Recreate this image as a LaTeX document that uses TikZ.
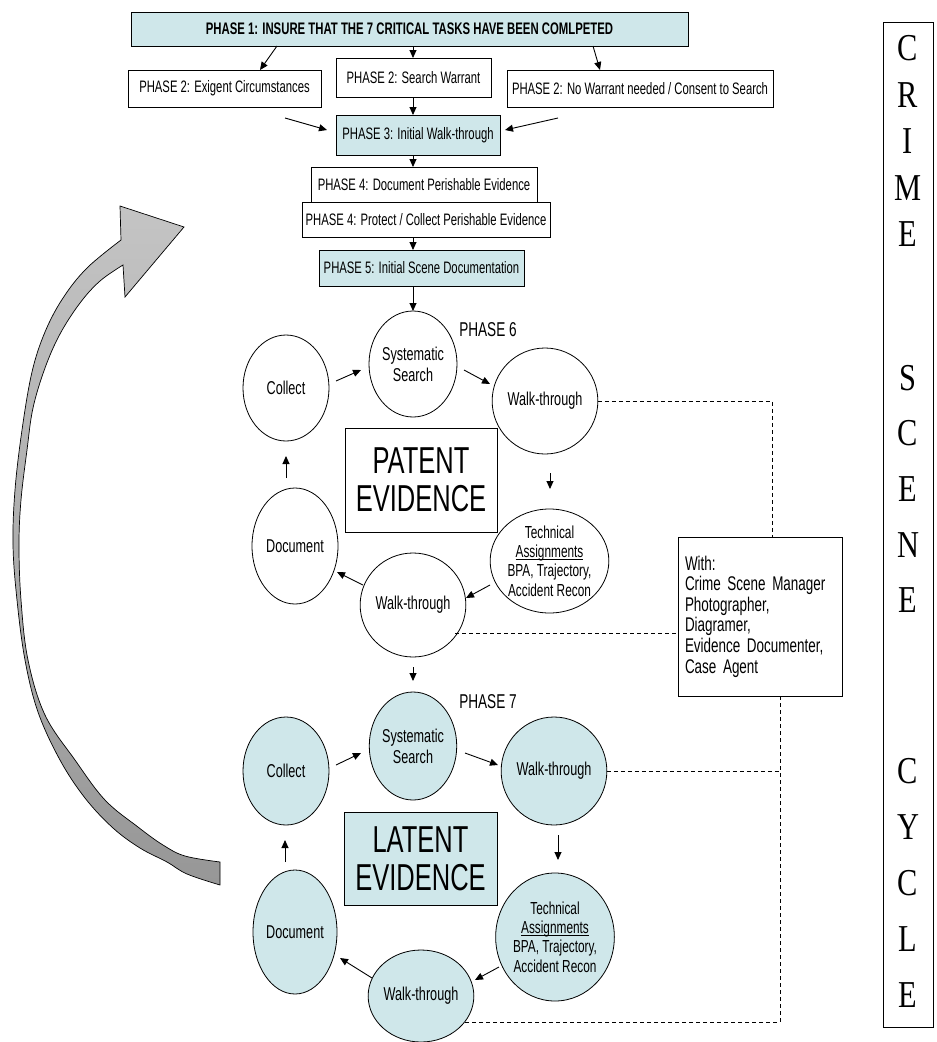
\documentclass[tikz,border=0pt]{standalone}
\usepackage{fontspec}
\setmainfont{Liberation Sans}[FakeStretch=0.68]
\newfontfamily\tnr{Liberation Serif}[FakeStretch=0.8]
\usetikzlibrary{arrows.meta,shapes.geometric}
\definecolor{lb}{HTML}{CFE7EA}
\definecolor{arrlight}{HTML}{C4C4C4}
\definecolor{arrdark}{HTML}{979797}
\newcommand{\myul}[1]{{\setbox0\hbox{#1}\rlap{\rule[-2.2pt]{\wd0}{0.6pt}}\box0}}
\begin{document}
\begin{tikzpicture}[x=1pt,y=-1pt,
  every node/.style={inner sep=0pt,outer sep=0pt},
  pbox/.style={draw,line width=0.8pt,rectangle,font=\fontsize{16.6}{18}\selectfont},
  circ/.style={draw,line width=0.8pt,ellipse,align=center,font=\fontsize{18.6}{21}\selectfont},
  techc/.style={circ,font=\fontsize{17.4}{19.3}\selectfont},
  white6/.style={fill=white},
  blue7/.style={fill=lb},
  arr/.style={-{Triangle[length=8pt,width=7pt]},line width=0.9pt},
  dsh/.style={line width=0.8pt,dash pattern=on 4pt off 3pt},
  bigbox/.style={draw,line width=0.8pt,rectangle,align=center,font=\fontsize{37.5}{38}\selectfont},
  letter/.style={font=\tnr\fontsize{38}{38}\selectfont}
]
\useasboundingbox (0,0) rectangle (937,1042);
\fill[white] (0,0) rectangle (937,1042);

% ---------- big curved arrow ----------
\path[draw=black,line width=0.7pt,top color=arrlight,bottom color=arrdark]
  plot[smooth,tension=0.6] coordinates {(220,885) (187,874) (167,862) (140,848) (113,828) (85,798) (60,760) (38,712) (25,660) (17,600) (13,545) (15,490) (22,430) (32,372) (45,332) (63,298) (87,268) (121,240)}
  -- (120,206) -- (184,227) -- (125,297) -- (123,265)
  -- plot[smooth,tension=0.6] coordinates {(123,265) (100,281) (80,303) (60,334) (45,368) (33,408) (27,450) (21,500) (19,545) (21,600) (28,660) (45,715) (75,760) (105,800) (138,827) (163,845) (185,856) (220,862)}
  -- cycle;

% ---------- phase boxes ----------
\node[pbox,fill=lb,minimum width=557pt,minimum height=34pt,font=\bfseries\fontsize{16.7}{18}\selectfont] (p1) at (409.5,29) {PHASE 1: INSURE THAT THE 7 CRITICAL TASKS HAVE BEEN COMLPETED};
\node[pbox,minimum width=193pt,minimum height=37pt] (ex) at (224.5,88.5) {PHASE 2: Exigent Circumstances};
\node[pbox,minimum width=155pt,minimum height=39pt] (sw) at (413.5,77.5) {PHASE 2: Search Warrant};
\node[pbox,minimum width=266pt,minimum height=37pt] (nw) at (640,88.5) {PHASE 2: No Warrant needed / Consent to Search};
\node[pbox,fill=lb,minimum width=164pt,minimum height=40pt] (p3) at (418,135) {PHASE 3: Initial Walk-through};
\node[pbox,minimum width=226pt,minimum height=35pt] (p4a) at (424,184.5) {PHASE 4: Document Perishable Evidence};
\node[pbox,minimum width=248pt,minimum height=35pt] (p4b) at (426,219.5) {PHASE 4: Protect / Collect Perishable Evidence};
\node[pbox,fill=lb,minimum width=205pt,minimum height=36pt] (p5) at (421.5,268) {PHASE 5: Initial Scene Documentation};

\coordinate (e1) at (277,46);  \coordinate (e2) at (260,70);
\coordinate (n1) at (593,46);  \coordinate (n2) at (600,70);
\coordinate (ea) at (285,118); \coordinate (eb) at (327,130);
\coordinate (na) at (558,118); \coordinate (nb) at (505,130);
\draw[arr] (e1) -- (e2);
\draw[arr] (n1) -- (n2);
\draw[arr] (413,0 |- p1.south) -- (413,0 |- sw.north);
\draw[arr] (413,0 |- sw.south) -- (413,0 |- p3.north);
\draw[arr] (ea) -- (eb);
\draw[arr] (na) -- (nb);
\draw[arr] (413,0 |- p3.south) -- (413,0 |- p4a.north);
\draw[arr] (413,0 |- p4b.south) -- (413,0 |- p5.north);

% ---------- phase 6 ----------
\node[circ,white6,minimum width=88pt,minimum height=106pt] (sys6) at (413,364) {Systematic\\Search};
\node[circ,white6,minimum width=86pt,minimum height=106pt] (col6) at (286,388) {Collect};
\node[circ,white6,minimum width=94pt,minimum height=106pt] (wt6) at (545,401) {Walk-through};
\node[circ,white6,minimum width=86pt,minimum height=116pt] (doc6) at (295,546) {Document};
\node[techc,white6,minimum width=103pt,minimum height=104pt] (tech6) at (549.5,561) {Technical\\\myul{Assignments}\\BPA, Trajectory,\\Accident Recon};
\node[circ,white6,minimum width=87pt,minimum height=104pt] (wb6) at (413,605) {Walk-through};
\node[bigbox,fill=white,minimum width=152pt,minimum height=104pt] (pat) at (421,480) {PATENT\\EVIDENCE};
\node[font=\fontsize{20}{22}\selectfont] (ph6) at (488,330) {PHASE 6};

\draw[arr] (sys6.north |- p5.south) -- (sys6.north);
\draw[arr] (336,381) -- (361,370);
\draw[arr] (464,370) -- (490,384);
\draw[arr] (550,473) -- (550,489);
\draw[arr] (490,585) -- (466,598);
\draw[arr] (363,585) -- (337,572);
\draw[arr] (286,478) -- (286,456);

% ---------- phase 7 ----------
\node[circ,blue7,minimum width=86pt,minimum height=108pt] (sys7) at (413,746) {Systematic\\Search};
\node[circ,blue7,minimum width=86pt,minimum height=108pt] (col7) at (286,771) {Collect};
\node[circ,blue7,minimum width=94pt,minimum height=108pt] (wt7) at (554,771) {Walk-through};
\node[bigbox,fill=lb,minimum width=153pt,minimum height=93pt] (lat) at (420.5,858.5) {LATENT\\EVIDENCE};
\node[techc,blue7,minimum width=95pt,minimum height=128pt] (tech7) at (555,937) {Technical\\\myul{Assignments}\\BPA, Trajectory,\\Accident Recon};
\node[circ,blue7,minimum width=84pt,minimum height=124pt] (doc7) at (295,932) {Document};
\node[circ,blue7,minimum width=88pt,minimum height=92pt] (wb7) at (421,996) {Walk-through};
\node[font=\fontsize{20}{22}\selectfont] (ph7) at (488,702) {PHASE 7};

\draw[arr] (413,667) -- (413,681);
\draw[arr] (336,765) -- (361,753);
\draw[arr] (465,753) -- (498,765);
\draw[arr] (558,835) -- (558,860);
\draw[arr] (499,967) -- (475,980);
\draw[arr] (372,978) -- (340,958);
\draw[arr] (285,862) -- (285,840);

% ---------- team box and dashed links ----------
\node[draw,line width=0.8pt,rectangle,minimum width=164pt,minimum height=159pt,
      text width=150pt,align=left,font=\fontsize{19.8}{20.6}\selectfont] (with) at (760,616.5)
  {With:\\Crime Scene Manager\\Photographer,\\Diagramer,\\Evidence Documenter,\\Case Agent};

\coordinate (wbx) at (455,633);
\coordinate (wby) at (465,1022);
\draw[dsh] (wt6.east) -| (772,0 |- with.north);
\draw[dsh] (wbx) -- (with.west |- wbx);
\draw[dsh] (wt7.east) -- (780,0 |- wt7.east);
\draw[dsh] (780,0 |- with.south) |- (wby);

% ---------- CRIME SCENE CYCLE ----------
\node[draw,line width=0.8pt,rectangle,minimum width=50pt,minimum height=1005pt] (ccc) at (908,524.5) {};
\foreach \ch/\yy in {C/48,R/95,I/141,M/188,E/234,S/378,C/433,E/489,N/545,E/600,C/771,Y/827,C/883,L/939,E/995}
  \node[letter] at (908,\yy) {\ch};
\end{tikzpicture}
\end{document}
